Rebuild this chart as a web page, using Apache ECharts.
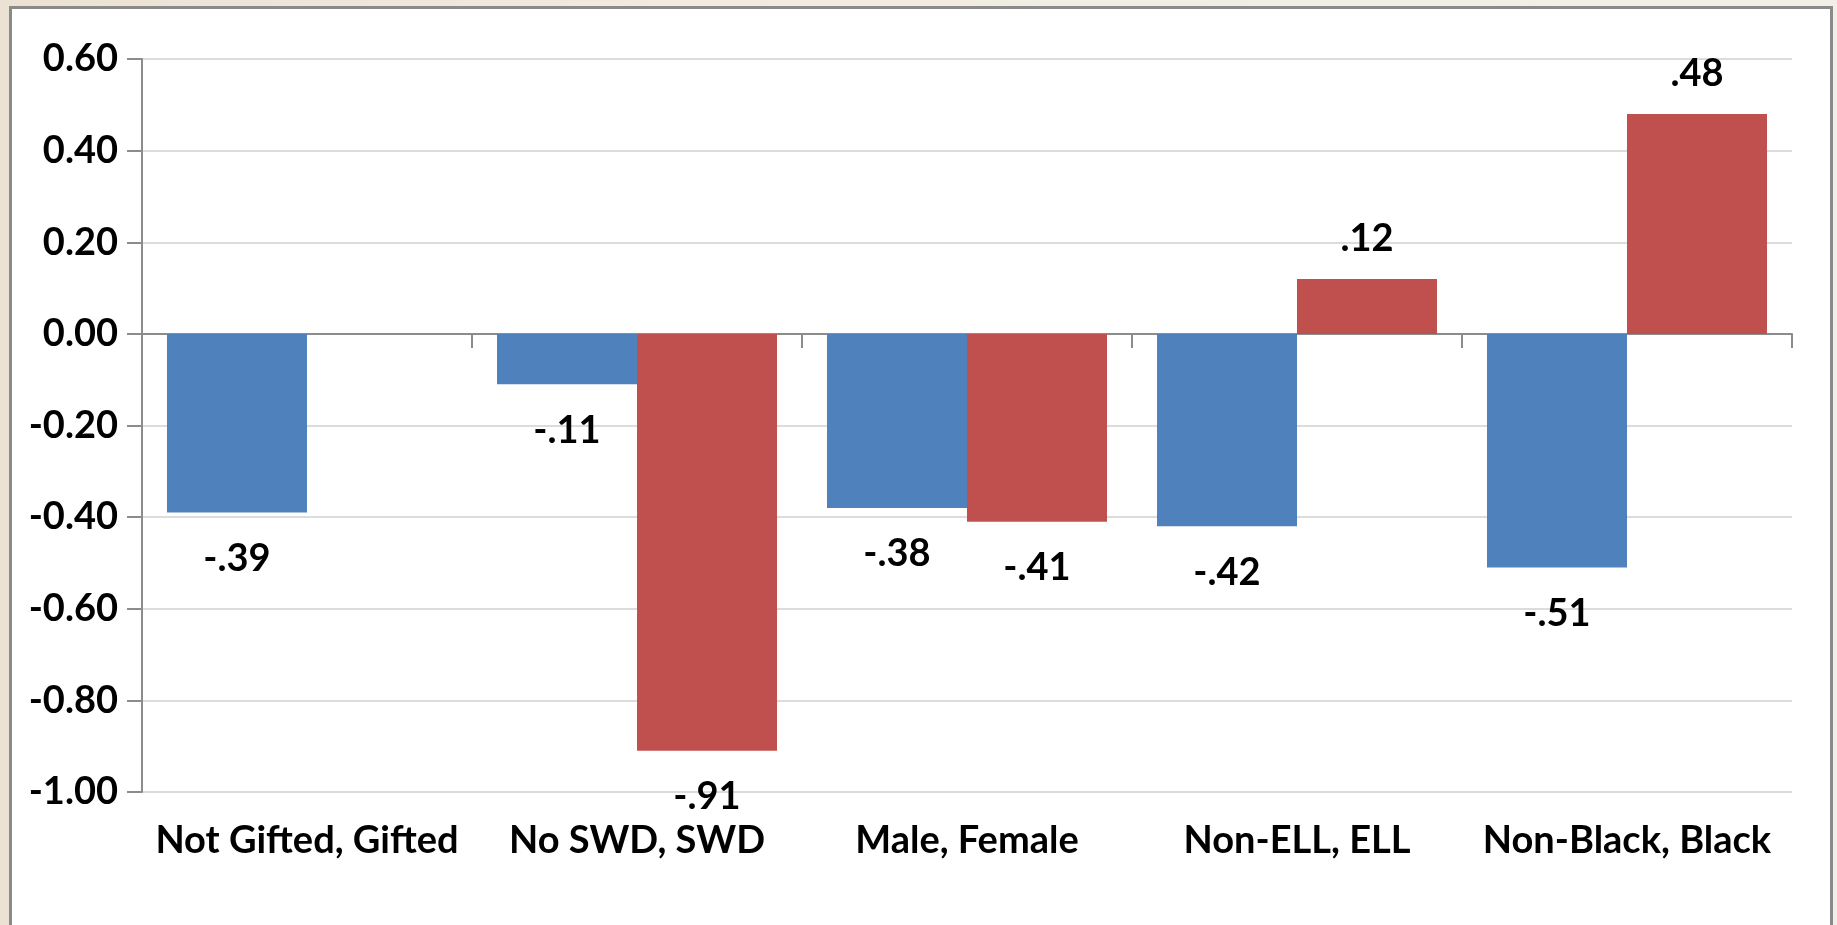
<!DOCTYPE html>
<html>
<head>
<meta charset="utf-8">
<script src="https://cdn.jsdelivr.net/npm/echarts@6/dist/echarts.min.js"></script>
<style>
  html, body { margin: 0; padding: 0; width: 1837px; height: 925px; overflow: hidden; }
  body { background: linear-gradient(90deg, #ebe2d3 0%, #f1ebe1 40%, #f3efe8 100%); position: relative; }
  #frame { position: absolute; left: 9px; top: 6px; width: 1818px; height: 940px;
           background: #fff; border: 3px solid #8a8a8a; }
  #chart { position: absolute; left: 0; top: 0; width: 1837px; height: 925px; }
</style>
</head>
<body>
<div id="frame"></div>
<div id="chart"></div>
<script>
// categories and values
const categories = ['Not Gifted, Gifted', 'No SWD, SWD', 'Male, Female', 'Non-ELL, ELL', 'Non-Black, Black'];
const firstGroup = [-0.39, -0.11, -0.38, -0.42, -0.51];
const secondGroup = [null, -0.91, -0.41, 0.12, 0.48];
const yTicks = { min: -1.0, max: 0.6, interval: 0.2 };

const BLUE = '#4F81BD';
const RED = '#C0504D';
const FONT = 'Lato';
const FONT_SIZE = 38;

// ".48" / "-.39" style labels
const fmt = v => {
    const s = Math.abs(v).toFixed(2).replace(/^0/, '');
    return v < 0 ? '-' + s : s;
};

// data items with label distance depending on sign
const toItems = arr => arr.map(v => v == null ? '-' : {
    value: v,
    label: { distance: v < 0 ? 27 : 21 }
});

const barLabel = {
    show: true,
    position: 'outside',
    color: '#000',
    fontFamily: FONT,
    fontWeight: 'bold',
    fontSize: FONT_SIZE,
    formatter: p => fmt(p.value)
};

const chart = echarts.init(document.getElementById('chart'));

const option = {
    animation: false,
    grid: { left: 142, top: 59, width: 1650, bottom: 133 },
    xAxis: [
        {
            // bottom labels
            type: 'category',
            data: categories,
            position: 'bottom',
            axisLine: { show: false, onZero: false },
            axisTick: { show: false },
            axisLabel: {
                interval: 0,
                margin: 30,
                color: '#000',
                fontFamily: FONT,
                fontWeight: 'bold',
                fontSize: FONT_SIZE
            }
        },
        {
            // line at zero with tick marks
            type: 'category',
            data: categories,
            position: 'bottom',
            axisLine: { show: true, onZero: true, lineStyle: { color: '#8c8c8c', width: 2 } },
            axisTick: { show: true, length: 14, lineStyle: { color: '#8c8c8c', width: 2 } },
            axisLabel: { show: false }
        }
    ],
    yAxis: {
        type: 'value',
        min: yTicks.min,
        max: yTicks.max,
        interval: yTicks.interval,
        axisLine: { show: true, lineStyle: { color: '#8c8c8c', width: 2 } },
        axisTick: { show: true, length: 15, lineStyle: { color: '#8c8c8c', width: 2 } },
        splitLine: { show: true, lineStyle: { color: '#dcdcdc', width: 2 } },
        axisLabel: {
            margin: 24,
            color: '#000',
            fontFamily: FONT,
            fontWeight: 'bold',
            fontSize: FONT_SIZE,
            formatter: v => v.toFixed(2)
        }
    },
    series: [
        {
            name: 'Group 1',
            type: 'bar',
            xAxisIndex: 0,
            data: toItems(firstGroup),
            barWidth: 140,
            barGap: '0%',
            itemStyle: { color: BLUE },
            label: barLabel
        },
        {
            name: 'Group 2',
            type: 'bar',
            xAxisIndex: 0,
            data: toItems(secondGroup),
            barWidth: 140,
            barGap: '0%',
            itemStyle: { color: RED },
            label: barLabel
        }
    ]
};

chart.setOption(option);
</script>
</body>
</html>
